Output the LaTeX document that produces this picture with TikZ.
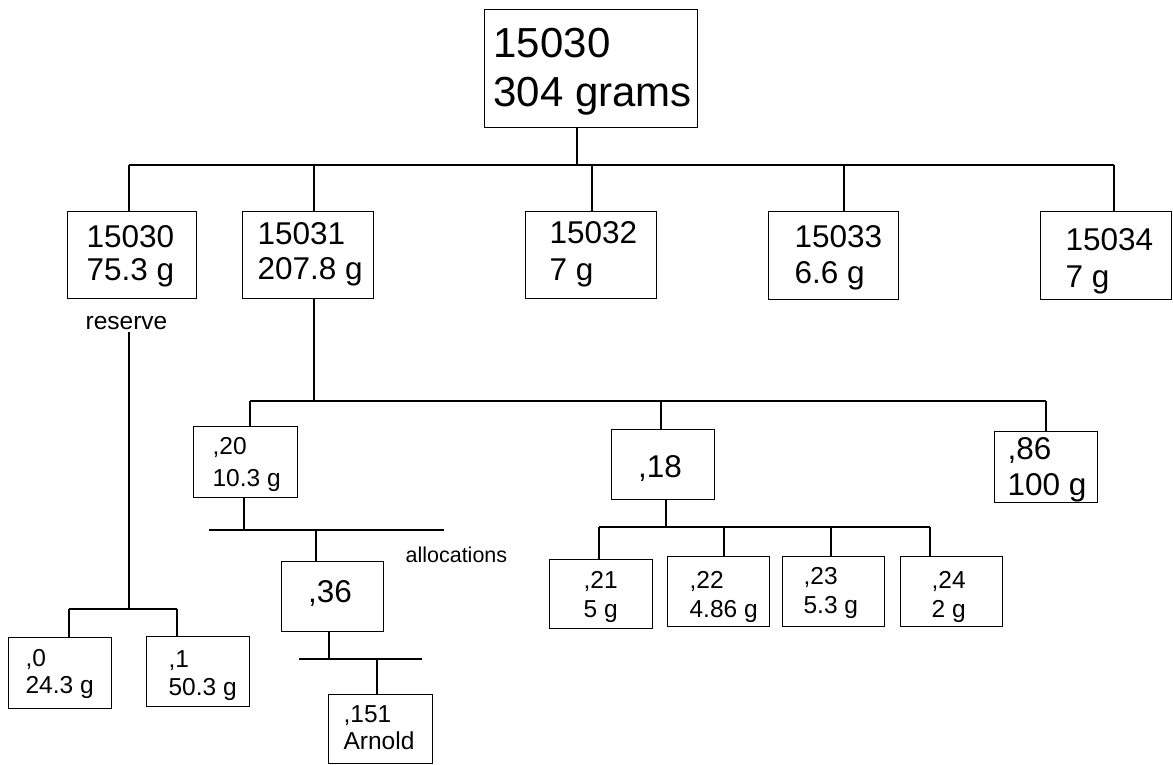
\documentclass[tikz,border=0pt]{standalone}
\usepackage{fontspec}
\setmainfont{Liberation Sans}
\begin{document}
\begin{tikzpicture}
[x=1pt, y=-1pt, line width=1.2pt,
 cell/.style={draw, anchor=north west, inner sep=0pt},
 txt/.style={inner sep=0pt, anchor=base west, align=left},
 rootfont/.style={font=\fontsize{42}{49}\selectfont},
 bigfont/.style={font=\fontsize{31.5}{35}\selectfont},
 smallfont/.style={font=\fontsize{24.5}{28}\selectfont}]
\useasboundingbox (0,0) rectangle (1173,764);
% boxes
\node[cell,minimum width=213pt,minimum height=118pt] (root) at (484,9) {};
\node[cell,minimum width=129pt,minimum height=87pt] (b30) at (67,211) {};
\node[cell,minimum width=131pt,minimum height=87pt] (b31) at (242,211) {};
\node[cell,minimum width=131pt,minimum height=87pt] (b32) at (525,211) {};
\node[cell,minimum width=130pt,minimum height=88pt] (b33) at (768,211) {};
\node[cell,minimum width=131pt,minimum height=88pt] (b34) at (1040,211) {};
\node[cell,minimum width=104pt,minimum height=71pt] (c20) at (193,426) {};
\node[cell,minimum width=103pt,minimum height=70pt] (c18) at (611,429) {};
\node[cell,minimum width=103pt,minimum height=71pt] (c86) at (994,431) {};
\node[cell,minimum width=102pt,minimum height=70pt] (d36) at (281,561) {};
\node[cell,minimum width=104pt,minimum height=69pt] (e151) at (328,694) {};
\node[cell,minimum width=103pt,minimum height=71pt] (r0) at (8,637) {};
\node[cell,minimum width=103pt,minimum height=70pt] (r1) at (146,636) {};
\node[cell,minimum width=103pt,minimum height=69pt] (f21) at (549,559) {};
\node[cell,minimum width=102pt,minimum height=70pt] (f22) at (667,556) {};
\node[cell,minimum width=102pt,minimum height=70pt] (f23) at (782,556) {};
\node[cell,minimum width=102pt,minimum height=70pt] (f24) at (900,556) {};
% texts
\node[txt,rootfont] (troot) at (493,106) {15030\\304 grams};
\node[txt,bigfont,font=\fontsize{31.5}{33}\selectfont] (t30) at (86,280) {15030\\75.3 g};
\node[txt,bigfont] (t31) at (257,279) {15031\\207.8 g};
\node[txt,bigfont,font=\fontsize{31.5}{37}\selectfont] (t32) at (549,280) {15032\\7 g};
\node[txt,bigfont,font=\fontsize{31.5}{36}\selectfont] (t33) at (794,283) {15033\\6.6 g};
\node[txt,bigfont,font=\fontsize{31.5}{37}\selectfont] (t34) at (1065,287) {15034\\7 g};
\node[txt,smallfont,font=\fontsize{24.5}{32}\selectfont] (t20) at (212,486) {,20\\10.3 g};
\node[txt,bigfont,anchor=base] (t18) at (660,477) {,18};
\node[txt,bigfont,font=\fontsize{31.5}{36}\selectfont] (t86) at (1007,495) {,86\\100 g};
\node[txt,bigfont,anchor=base] (t36) at (330,602) {,36};
\node[txt,smallfont,font=\fontsize{24.5}{27}\selectfont] (t151) at (343,749) {,151\\Arnold};
\node[txt,smallfont,font=\fontsize{24.5}{27}\selectfont] (t0) at (25,693) {,0\\24.3 g};
\node[txt,smallfont] (t1) at (168,695) {,1\\50.3 g};
\node[txt,smallfont,font=\fontsize{24.5}{29}\selectfont] (t21) at (583,617) {,21\\5 g};
\node[txt,smallfont,font=\fontsize{24.5}{29}\selectfont] (t22) at (689,617) {,22\\4.86 g};
\node[txt,smallfont,font=\fontsize{24.5}{29}\selectfont] (t23) at (803,613) {,23\\5.3 g};
\node[txt,smallfont,font=\fontsize{24.5}{29}\selectfont] (t24) at (931,617) {,24\\2 g};
\node[txt,smallfont,inner sep=2pt] (reserve) at (83,329) {reserve};
\node[txt,font=\fontsize{21.5}{26}\selectfont] (alloc) at (405,562) {allocations};
% top level
\coordinate (j0) at (577,165);
\coordinate (j30) at (129,165);
\coordinate (j31) at (314,165);
\coordinate (j32) at (592,165);
\coordinate (j33) at (844,165);
\coordinate (j34) at (1114,165);
\draw (root.south -| j0) -- (j0);
\draw (j30) -- (j34);
\foreach \n in {30,31,32,33,34}
  \draw (j\n) -- (j\n |- b\n.north);
% reserve
\coordinate (q1) at (129,609);
\coordinate (q0) at (69,609);
\coordinate (q2) at (177,609);
\draw (reserve.south -| q1) -- (q1);
\draw (q0) -- (q2);
\draw (q0) -- (q0 |- r0.north);
\draw (q2) -- (q2 |- r1.north);
% under 15031
\coordinate (k0) at (314,401);
\coordinate (k20) at (250,401);
\coordinate (k18) at (661,401);
\coordinate (k86) at (1046,401);
\draw (b31.south -| k0) -- (k0);
\draw (k20) -- (k86);
\foreach \n in {20,18,86}
  \draw (k\n) -- (k\n |- c\n.north);
% allocations
\coordinate (m0) at (244,530);
\coordinate (m1) at (209,530);
\coordinate (m2) at (444,530);
\coordinate (m36) at (316,530);
\draw (c20.south -| m0) -- (m0);
\draw (m1) -- (m2);
\draw (m36) -- (m36 |- d36.north);
\coordinate (n0) at (329,659);
\coordinate (n1) at (299,659);
\coordinate (n2) at (422,659);
\coordinate (n151) at (377,659);
\draw (d36.south -| n0) -- (n0);
\draw (n1) -- (n2);
\draw (n151) -- (n151 |- e151.north);
% under ,18
\coordinate (p0) at (666,527);
\coordinate (p21) at (599,527);
\coordinate (p22) at (724,527);
\coordinate (p23) at (831,527);
\coordinate (p24) at (930,527);
\draw (c18.south -| p0) -- (p0);
\draw (p21) -- (p24);
\foreach \n in {21,...,24}
  \draw (p\n) -- (p\n |- f\n.north);
\end{tikzpicture}
\end{document}
